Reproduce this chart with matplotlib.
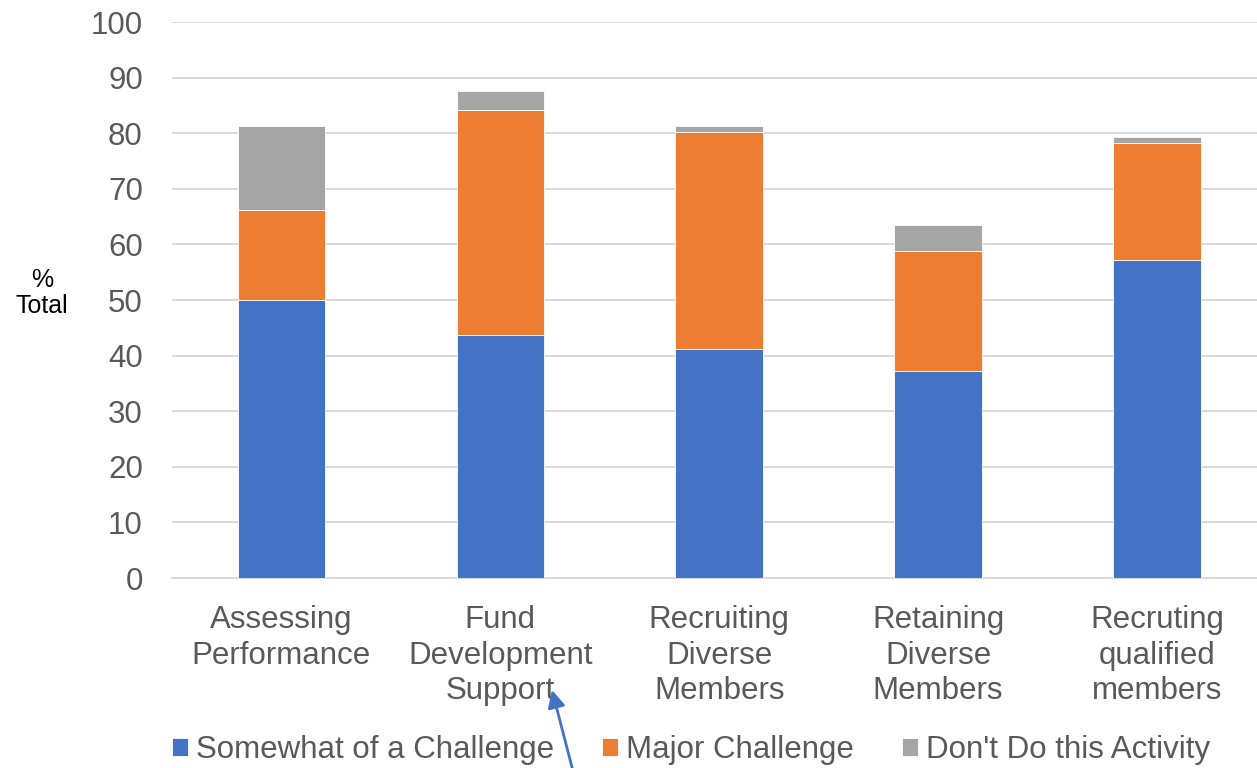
import matplotlib.pyplot as plt
import numpy as np

plt.rcParams['font.family'] = ['Liberation Sans', 'DejaVu Sans']

# categories and stacked series (% of total)
categories = ['Assessing\nPerformance', 'Fund\nDevelopment\nSupport',
              'Recruiting\nDiverse\nMembers', 'Retaining\nDiverse\nMembers',
              'Recruting\nqualified\nmembers']
somewhat = [50.0, 43.7, 41.1, 37.3, 57.2]
major = [16.2, 40.4, 39.1, 21.6, 21.1]
dont_do = [15.1, 3.5, 1.1, 4.5, 1.0]

series_names = ['Somewhat of a Challenge', 'Major Challenge', "Don't Do this Activity"]
colors = ['#4472C4', '#ED7D31', '#A5A5A5']
yticks = list(range(0, 101, 10))

W, H = 1257, 768
fig = plt.figure(figsize=(W / 100, H / 100), dpi=100)
ax = fig.add_axes([172 / W, 1 - 578 / H, (W - 172) / W, (578 - 22) / H])

x = np.arange(len(categories))
bottom = np.zeros(len(categories))
for vals, name, col in zip([somewhat, major, dont_do], series_names, colors):
    ax.bar(x, vals, width=0.40, bottom=bottom, color=col, label=name,
           edgecolor='white', linewidth=0.6, zorder=3)
    bottom += np.array(vals)

ax.set_ylim(0, 100)
ax.set_xlim(-0.5, 4.457)
ax.set_yticks(yticks)
ax.set_xticks(x)
ax.set_xticklabels(categories, fontsize=22.5, color='#595959', linespacing=1.24)
ax.tick_params(axis='y', labelsize=22.5, labelcolor='#595959', length=0, pad=21)
ax.tick_params(axis='x', length=0, pad=19.5)
ax.grid(axis='y', color='#D9D9D9', linewidth=1.4, zorder=0)
for side in ['top', 'right', 'left']:
    ax.spines[side].set_visible(False)
ax.spines['bottom'].set_color('#D9D9D9')
ax.spines['bottom'].set_linewidth(1.4)

fig.text(42 / W, 1 - 293 / H, '%\nTotal', ha='center', va='center',
         fontsize=18, color='black', linespacing=1.15)

leg = fig.legend(loc='center', bbox_to_anchor=(691 / W, 1 - 750 / H), ncol=3,
                 frameon=False, fontsize=22.5, handlelength=0.5, handleheight=0.5,
                 handletextpad=0.25, columnspacing=1.55, borderaxespad=0)
for t in leg.get_texts():
    t.set_color('#595959')

# pointer arrow up to the Fund Development label
fig.add_artist(plt.matplotlib.patches.FancyArrowPatch(
    (574 / W, 1 - 775 / H), (552 / W, 1 - 690 / H), transform=fig.transFigure,
    arrowstyle='-|>', mutation_scale=26, color='#4472C4', linewidth=2,
    shrinkA=0, shrinkB=0))

fig.savefig('out.png', dpi=100)
